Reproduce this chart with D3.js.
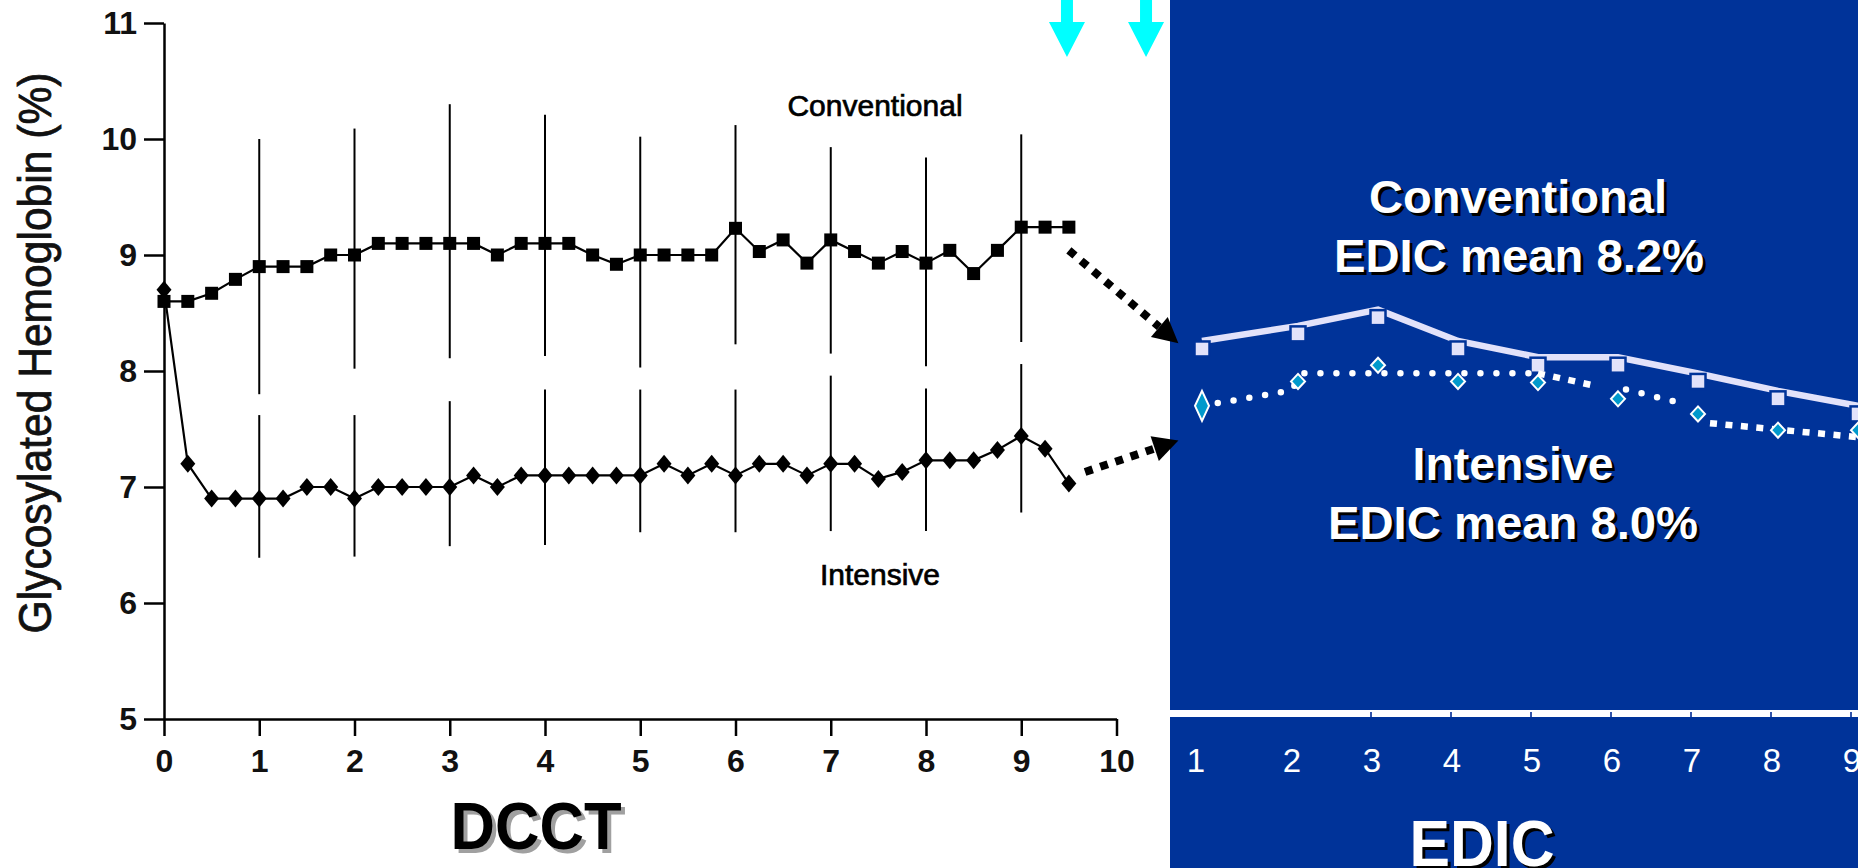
<!DOCTYPE html>
<html>
<head>
<meta charset="utf-8">
<script src="https://cdn.jsdelivr.net/npm/d3@7.9.0/dist/d3.min.js"></script>
<style>
  html, body { margin: 0; padding: 0; background: #fff; overflow: hidden; }
  svg { display: block; }
  text { font-family: "Liberation Sans", Arial, sans-serif; }
</style>
</head>
<body>
<svg id="chart" width="1858" height="868"></svg>
<script>
// ---- DCCT (quarterly visits, years 0 - 9.5) ----
const dcctYears = [0, 0.25, 0.5, 0.75, 1, 1.25, 1.5, 1.75, 2, 2.25, 2.5, 2.75, 3, 3.25, 3.5, 3.75,
  4, 4.25, 4.5, 4.75, 5, 5.25, 5.5, 5.75, 6, 6.25, 6.5, 6.75, 7, 7.25, 7.5, 7.75,
  8, 8.25, 8.5, 8.75, 9, 9.25, 9.5];
const dcctConventional = [8.6, 8.6, 8.67, 8.79, 8.9, 8.9, 8.9, 9.0, 9.0, 9.1, 9.1, 9.1, 9.1, 9.1, 9.0, 9.1,
  9.1, 9.1, 9.0, 8.92, 9.0, 9.0, 9.0, 9.0, 9.23, 9.03, 9.13, 8.93, 9.13, 9.03, 8.93, 9.03,
  8.93, 9.04, 8.84, 9.04, 9.24, 9.24, 9.24];
const dcctIntensive = [8.7, 7.2, 6.9, 6.9, 6.9, 6.9, 7.0, 7.0, 6.9, 7.0, 7.0, 7.0, 7.0, 7.1, 7.0, 7.1,
  7.1, 7.1, 7.1, 7.1, 7.1, 7.2, 7.1, 7.2, 7.1, 7.2, 7.2, 7.1, 7.2, 7.2, 7.07, 7.13,
  7.23, 7.23, 7.23, 7.32, 7.44, 7.33, 7.03];

// error bars at each full year
const errYears = [1, 2, 3, 4, 5, 6, 7, 8, 9];
const convHigh = [10.0, 10.09, 10.3, 10.21, 10.02, 10.12, 9.93, 9.84, 10.04];
const convLow = [7.8, 8.02, 8.11, 8.13, 8.03, 8.23, 8.15, 8.04, 8.25];
const intHigh = [7.62, 7.62, 7.74, 7.84, 7.84, 7.84, 7.96, 7.85, 8.06];
const intLow = [6.39, 6.4, 6.49, 6.5, 6.61, 6.61, 6.62, 6.62, 6.78];

const yTicks = [5, 6, 7, 8, 9, 10, 11];
const xTicks = [0, 1, 2, 3, 4, 5, 6, 7, 8, 9, 10];

// ---- EDIC (yearly) ----
const edicYears = [1, 2, 3, 4, 5, 6, 7, 8, 9];
const edicConventional = [8.19, 8.32, 8.46, 8.19, 8.05, 8.05, 7.91, 7.76, 7.63];
const edicIntensive = [7.7, 7.91, 8.05, 7.91, 7.9, 7.76, 7.63, 7.49, 7.49];
// dotted trend drawn under the intensive markers
const trendX = [1, 1.92, 2.08, 5, 5.73, 6.1, 6.87, 7.15, 9];
const trendY = [7.7, 7.83, 7.98, 7.98, 7.87, 7.84, 7.71, 7.55, 7.43];
const trendParts = [[0, 3, 'round'], [3, 4, 'square'], [5, 6, 'round'], [7, 8, 'square']];
const edicTicks = [3, 4, 5, 6, 7, 8, 9];

// annotations (in DCCT axis units)
const cyanArrowX = [9.48, 10.31];
const linkTail = [[9.5, 9.04], [9.67, 7.13]];
const linkTip = [[10.65, 8.24], [10.65, 7.4]];

const W = 1858, H = 868;
const BLUE = '#003399';
const svg = d3.select('#chart');

const x = d3.scaleLinear().domain([0, 10]).range([164, 1116.5]);
const y = d3.scaleLinear().domain([5, 11]).range([719, 23]);
const xE = d3.scaleLinear().domain([1, 2, 9]).range([1202, 1298, 1858]);

svg.append('rect').attr('width', W).attr('height', H).attr('fill', '#fff');

// ---------- left: DCCT chart ----------
const yAxis = d3.axisLeft(y).tickValues(yTicks).tickFormat(d3.format('d'))
  .tickSize(20).tickSizeOuter(0).tickPadding(7);
const gy = svg.append('g').attr('transform', `translate(${x(0)},0)`).call(yAxis);
const xAxis = d3.axisBottom(x).tickValues(xTicks).tickFormat(d3.format('d'))
  .tickSize(17).tickSizeOuter(0).tickPadding(13);
const gx = svg.append('g').attr('transform', `translate(0,${y(5)})`).call(xAxis);

[gy, gx].forEach((g) => {
  g.attr('font-family', null);
  g.select('.domain').attr('stroke', '#000').attr('stroke-width', 2.5);
  g.selectAll('.tick line').attr('stroke', '#000').attr('stroke-width', 2.5);
  g.selectAll('.tick text')
    .attr('font-size', 32)
    .attr('font-weight', 'bold')
    .attr('fill', '#111');
});

// axis title
svg.append('text')
  .attr('transform', `translate(51,${353}) rotate(-90)`)
  .attr('text-anchor', 'middle')
  .attr('font-size', 46)
  .attr('textLength', 561)
  .attr('lengthAdjust', 'spacingAndGlyphs')
  .attr('fill', '#111')
  .attr('stroke', '#111')
  .attr('stroke-width', 0.8)
  .text('Glycosylated Hemoglobin (%)');

// error bars
const errG = svg.append('g').attr('stroke', '#000').attr('stroke-width', 2);
[[convHigh, convLow], [intHigh, intLow]].forEach(([hi, lo]) => {
  errG.selectAll(null)
    .data(errYears)
    .join('line')
    .attr('x1', (d) => x(d))
    .attr('x2', (d) => x(d))
    .attr('y1', (d, i) => y(hi[i]))
    .attr('y2', (d, i) => y(lo[i]));
});

const dcctLine = d3.line().x((d) => x(d[0])).y((d) => y(d[1]));
const convPts = dcctYears.map((t, i) => [t, dcctConventional[i]]);
const intPts = dcctYears.map((t, i) => [t, dcctIntensive[i]]);

svg.append('path').attr('d', dcctLine(convPts))
  .attr('fill', 'none').attr('stroke', '#000').attr('stroke-width', 2.2);
svg.append('path').attr('d', dcctLine(intPts))
  .attr('fill', 'none').attr('stroke', '#000').attr('stroke-width', 2.2);

svg.append('g').selectAll('rect')
  .data(convPts)
  .join('rect')
  .attr('x', (d) => x(d[0]) - 6.5)
  .attr('y', (d) => y(d[1]) - 6.5)
  .attr('width', 13)
  .attr('height', 13)
  .attr('fill', '#000');

svg.append('g').selectAll('path')
  .data(intPts)
  .join('path')
  .attr('transform', (d) => `translate(${x(d[0])},${y(d[1])})`)
  .attr('d', 'M0,-9L7.5,0L0,9L-7.5,0Z')
  .attr('fill', '#000');

svg.append('text').attr('x', 875).attr('y', 116)
  .attr('text-anchor', 'middle').attr('font-size', 30)
  .attr('stroke', '#000').attr('stroke-width', 0.7)
  .attr('fill', '#000').text('Conventional');
svg.append('text').attr('x', 880).attr('y', 585)
  .attr('text-anchor', 'middle').attr('font-size', 30)
  .attr('stroke', '#000').attr('stroke-width', 0.7)
  .attr('fill', '#000').text('Intensive');

// bold title with a drop shadow
function shadowText(px, py, str, size, len, fill, shadow, off) {
  const g = svg.append('g')
    .attr('font-size', size)
    .attr('font-weight', 'bold')
    .attr('text-anchor', 'middle');
  [[off, shadow], [0, fill]].forEach(([o, c]) => {
    g.append('text')
      .attr('x', px + o)
      .attr('y', py + o)
      .attr('textLength', len)
      .attr('lengthAdjust', 'spacingAndGlyphs')
      .attr('fill', c)
      .text(str);
  });
}
shadowText(536, 849, 'DCCT', 66, 171, '#000', '#a0a0a0', 4);

// ---------- right: EDIC panel ----------
svg.append('rect')
  .attr('x', 1170).attr('y', 0)
  .attr('width', W - 1170).attr('height', H)
  .attr('fill', BLUE);

// link arrows from DCCT end to EDIC start
linkTail.forEach((t, i) => {
  const x0 = x(t[0]), y0 = y(t[1]);
  const x1 = x(linkTip[i][0]), y1 = y(linkTip[i][1]);
  const len = Math.hypot(x1 - x0, y1 - y0);
  const ux = (x1 - x0) / len, uy = (y1 - y0) / len;
  const headL = 25, headW = 13;
  const bx = x1 - ux * headL, by = y1 - uy * headL;
  svg.append('line')
    .attr('x1', x0).attr('y1', y0)
    .attr('x2', bx).attr('y2', by)
    .attr('stroke', '#000').attr('stroke-width', 8)
    .attr('stroke-dasharray', '8 8');
  svg.append('path')
    .attr('d', `M${x1},${y1}L${bx - uy * headW},${by + ux * headW}L${bx + uy * headW},${by - ux * headW}Z`)
    .attr('fill', '#000');
});

// cyan arrows at top
cyanArrowX.forEach((v) => {
  const cx = x(v);
  svg.append('path')
    .attr('d', `M${cx - 6},0H${cx + 6}V22H${cx + 18}L${cx},57L${cx - 18},22H${cx - 6}Z`)
    .attr('fill', '#00ffff');
});

// conventional EDIC line (drawn slightly above markers, as in the slide)
const edicLine = d3.line().x((d) => xE(d[0])).y((d) => y(d[1]));
const eConv = edicYears.map((t, i) => [t, edicConventional[i]]);
const eInt = edicYears.map((t, i) => [t, edicIntensive[i]]);

svg.append('path')
  .attr('d', edicLine(eConv))
  .attr('transform', 'translate(0,-8)')
  .attr('fill', 'none')
  .attr('stroke', '#e2e2fa')
  .attr('stroke-width', 6.5);

svg.append('g').selectAll('rect')
  .data(eConv)
  .join('rect')
  .attr('x', (d) => xE(d[0]) - 7.5)
  .attr('y', (d) => y(d[1]) - 7.5)
  .attr('width', 15)
  .attr('height', 15)
  .attr('fill', '#e2e2fa')
  .attr('stroke', BLUE)
  .attr('stroke-width', 2.5);

// intensive dotted trend
const trendPts = trendX.map((t, i) => [t, trendY[i]]);
trendParts.forEach(([a, b, kind]) => {
  const p = svg.append('path')
    .attr('d', edicLine(trendPts.slice(a, b + 1)))
    .attr('fill', 'none')
    .attr('stroke', '#fff')
    .attr('stroke-width', 6.5);
  if (kind === 'round') {
    p.attr('stroke-linecap', 'round').attr('stroke-dasharray', '0 16');
  } else {
    p.attr('stroke-linecap', 'butt').attr('stroke-dasharray', '7 8.5');
  }
});

svg.append('g').selectAll('path')
  .data(eInt)
  .join('path')
  .attr('transform', (d) => `translate(${xE(d[0])},${y(d[1])})`)
  .attr('d', (d, i) => i === 0 ? 'M0,-15L7,0L0,15L-7,0Z' : 'M0,-7.5L7,0L0,7.5L-7,0Z')
  .attr('fill', '#0099cc')
  .attr('stroke', '#fff')
  .attr('stroke-width', 2);

// EDIC axis
svg.append('rect')
  .attr('x', 1170).attr('y', 710)
  .attr('width', W - 1170).attr('height', 7)
  .attr('fill', '#fff');
svg.append('g').selectAll('line')
  .data(edicTicks)
  .join('line')
  .attr('x1', (d) => xE(d) - 7)
  .attr('x2', (d) => xE(d) - 7)
  .attr('y1', 712)
  .attr('y2', 717)
  .attr('stroke', '#3355aa')
  .attr('stroke-width', 2);
svg.append('g').selectAll('text')
  .data(edicYears)
  .join('text')
  .attr('x', (d) => xE(d) - 6)
  .attr('y', 772)
  .attr('text-anchor', 'middle')
  .attr('font-family', 'Roboto, "Open Sans", sans-serif')
  .attr('font-weight', 300)
  .attr('font-size', 33)
  .attr('fill', '#fff')
  .text((d) => d);

// panel texts
shadowText(1518, 213, 'Conventional', 47, 298, '#fff', '#000', 3);
shadowText(1519, 272, 'EDIC mean 8.2%', 47, 370, '#fff', '#000', 3);
shadowText(1513, 480, 'Intensive', 47, 201, '#fff', '#000', 3);
shadowText(1513, 539, 'EDIC mean 8.0%', 47, 370, '#fff', '#000', 3);
shadowText(1482, 866, 'EDIC', 64, 145, '#fff', '#000', 3);
</script>
</body>
</html>
